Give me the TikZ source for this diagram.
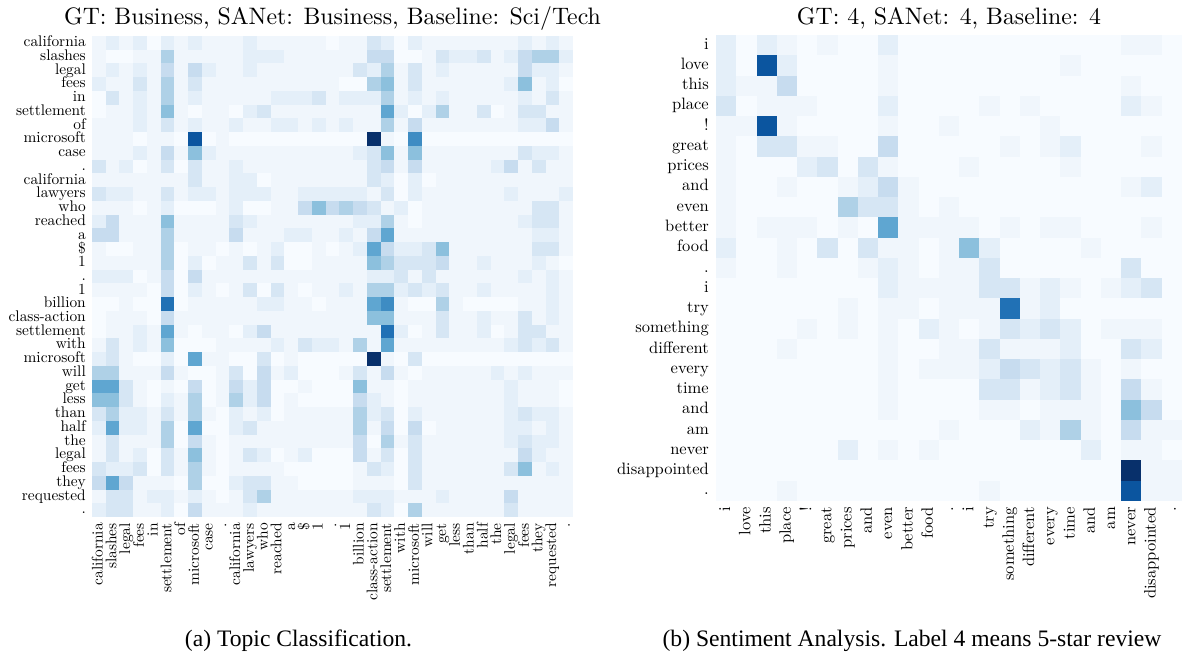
\documentclass[tikz,border=0pt]{standalone}
\usepackage{graphicx}
\usepackage{fontspec}
\newfontfamily\capfont{Liberation Serif}
\definecolor{c0}{RGB}{247,251,255}
\definecolor{c1}{RGB}{240,246,252}
\definecolor{c2}{RGB}{228,239,249}
\definecolor{c3}{RGB}{214,230,244}
\definecolor{c4}{RGB}{199,220,239}
\definecolor{c5}{RGB}{175,209,231}
\definecolor{c6}{RGB}{140,192,221}
\definecolor{c7}{RGB}{95,166,209}
\definecolor{c8}{RGB}{62,140,195}
\definecolor{c9}{RGB}{33,113,181}
\definecolor{cA}{RGB}{11,85,159}
\definecolor{cB}{RGB}{8,48,107}
\newcommand{\lmtext}[2]{\scalebox{#1}{\fontsize{10}{12}\selectfont\vphantom{lg}#2}}
\begin{document}
\begin{tikzpicture}[x=1pt,y=-1pt,
  lrow/.style={anchor=east,inner sep=0pt},
  lcol/.style={anchor=east,rotate=90,inner sep=0pt},
  ttl/.style={anchor=base,inner sep=0pt},
  capt/.style={anchor=base,inner sep=0pt,font=\capfont\fontsize{23.6}{26}\selectfont}]
\useasboundingbox (0,0) rectangle (1184,655);
% ---------------- left heatmap ----------------
\foreach \row [count=\r from 0] in {
{1,2,1,2,0,2,1,2,1,1,1,2,1,1,1,1,1,0,1,1,3,2,0,2,1,1,1,1,1,1,1,2,1,2,1},
{1,0,0,1,1,5,1,1,1,1,1,2,2,2,1,1,1,1,1,1,4,4,0,0,1,3,2,2,3,1,2,4,5,5,2},
{1,2,1,2,1,4,1,4,2,1,1,2,1,1,1,1,1,1,1,3,2,5,1,3,1,2,1,1,1,1,1,4,2,2,1},
{2,1,1,3,1,5,1,3,1,1,1,1,1,1,1,1,1,1,0,0,5,6,1,3,1,1,1,1,1,1,2,6,1,2,0},
{0,3,1,2,1,5,1,2,1,1,1,1,1,2,2,2,3,1,2,2,2,5,1,2,1,2,1,1,1,1,1,2,1,3,1},
{0,1,1,2,1,6,1,0,1,1,0,2,3,1,1,1,1,1,1,1,1,7,2,0,2,5,1,1,3,0,1,3,3,1,1},
{1,1,1,2,1,3,1,2,1,1,2,1,1,2,2,1,2,1,2,1,1,5,1,4,1,1,1,1,1,1,1,2,2,4,1},
{1,1,1,0,1,1,0,A,0,1,0,0,0,0,0,0,0,0,0,0,B,1,0,8,0,0,0,0,0,0,0,0,0,0,0},
{1,1,1,2,1,4,1,6,2,1,1,1,1,1,1,1,1,1,1,2,3,6,1,6,1,1,1,1,1,1,1,3,2,2,1},
{3,1,2,0,1,3,0,3,1,1,2,1,1,1,1,1,1,1,1,1,3,4,1,4,1,1,1,1,1,2,4,1,3,1,1},
{1,1,1,1,1,1,1,3,1,1,2,2,0,1,1,1,1,1,1,1,3,2,0,2,0,1,1,1,1,1,1,1,1,1,1},
{3,2,2,1,1,3,1,2,2,1,2,2,2,1,1,2,2,2,2,2,1,3,0,2,1,1,1,1,1,1,2,1,1,1,2},
{1,1,1,0,1,2,0,0,0,1,2,0,0,1,1,4,6,4,5,4,3,1,2,0,1,1,1,1,1,1,1,1,3,3,1},
{2,4,1,1,1,6,1,1,1,1,3,2,1,1,1,1,1,1,1,2,2,5,1,0,1,1,1,1,1,1,1,2,3,3,1},
{4,4,1,1,1,5,1,1,1,1,4,1,1,1,2,2,1,1,2,1,4,7,1,1,1,1,1,1,1,1,1,1,2,2,1},
{1,0,0,1,1,5,0,1,1,0,1,0,1,2,0,0,1,0,1,2,7,4,2,2,3,6,1,1,1,1,1,1,3,3,1},
{1,1,1,1,1,5,0,2,0,1,1,3,1,3,0,0,1,1,1,1,6,5,3,3,3,4,1,1,2,1,1,1,2,1,0},
{2,2,2,0,1,4,0,4,1,1,1,1,1,1,1,1,1,1,1,1,2,2,3,1,3,1,1,1,1,1,1,2,1,2,1},
{1,1,1,1,0,4,0,2,1,0,1,3,0,3,1,0,1,1,2,1,5,5,2,3,2,3,1,1,2,1,1,1,1,2,1},
{0,0,1,0,0,9,0,1,1,1,1,1,2,2,1,1,0,1,1,1,7,8,1,0,0,5,1,0,0,0,0,1,1,2,1},
{0,1,1,1,0,4,1,1,1,1,1,1,1,1,1,1,1,1,1,1,6,6,1,1,1,3,1,1,2,1,1,3,1,2,1},
{0,1,1,2,1,7,1,0,1,1,0,2,4,1,1,1,1,1,1,1,1,9,2,0,1,3,1,1,2,0,1,3,3,1,1},
{1,3,1,2,1,6,0,0,0,1,1,1,1,2,1,3,2,2,1,5,1,7,1,1,1,1,1,1,1,1,2,3,2,3,1},
{2,3,1,0,0,2,0,7,1,1,0,0,3,0,1,0,0,0,0,0,B,1,0,3,0,0,0,0,0,0,0,0,0,0,0},
{5,5,1,1,1,4,1,0,0,1,3,0,4,1,2,0,0,0,1,3,1,4,1,0,1,1,1,1,1,2,1,2,1,1,1},
{7,7,3,1,0,1,0,4,0,1,4,2,4,0,0,1,0,0,0,6,1,1,0,1,1,1,1,1,1,1,2,1,1,1,0},
{6,6,3,1,0,2,1,5,0,1,5,2,4,0,1,0,0,0,0,4,2,1,0,1,1,1,1,1,1,1,2,1,1,1,0},
{3,5,2,2,1,3,1,5,1,0,2,1,2,0,1,1,1,1,1,5,2,3,0,2,1,1,1,1,1,1,2,3,2,2,1},
{2,7,2,2,1,5,0,7,0,0,2,3,1,1,1,1,1,1,1,5,1,4,0,4,0,1,1,1,1,1,2,2,1,2,1},
{1,3,1,1,1,5,0,4,1,0,1,1,1,1,1,1,1,1,1,4,0,5,1,3,1,1,1,1,1,1,2,3,2,2,1},
{1,3,1,2,0,3,1,6,1,0,1,3,2,0,1,2,0,0,0,4,1,3,0,3,1,1,1,1,1,1,1,4,2,1,1},
{3,2,2,3,0,3,1,5,1,0,1,1,1,1,0,0,0,0,0,1,3,2,0,3,1,1,1,1,1,1,3,6,1,2,1},
{4,7,4,1,1,1,0,5,0,0,2,3,3,1,1,0,0,0,0,1,1,1,0,3,1,1,1,1,1,1,1,1,1,1,1},
{1,3,3,1,2,2,1,2,1,0,1,3,5,1,1,1,1,1,1,2,2,2,1,1,1,2,1,1,1,1,4,1,1,1,1},
{2,3,3,1,1,2,0,4,1,1,1,2,1,1,1,1,1,1,1,1,3,2,0,5,1,1,1,1,1,1,3,1,1,1,1}}
{\foreach \v [count=\c from 0] in \row
  {\fill[c\v] ({92+\c*13.743},{36+\r*13.743}) rectangle +(14.1,14.1);}}
\foreach \lab [count=\i from 0] in {california,slashes,legal,fees,in,settlement,of,microsoft,case,.,california,lawyers,who,reached,a,\$,1,.,1,billion,class-action,settlement,with,microsoft,will,get,less,than,half,the,legal,fees,they,requested,.}
{\node[lrow] (lr\i) at (86,{36+13.743*(\i+0.5)}) {\lmtext{1.54}{\lab}};
 \node[lcol] (lc\i) at ({92+13.743*(\i+0.5)},523) {\lmtext{1.54}{\lab}};}
\node[ttl] (ta) at (332.5,25) {\lmtext{2.38}{GT: Business, SANet: Business, Baseline: Sci/Tech}};
% ---------------- right heatmap ----------------
\foreach \row [count=\r from 0] in {
{2,0,2,1,0,1,0,0,2,0,0,0,0,0,0,0,0,0,0,0,1,1,0},
{2,0,A,2,0,0,0,0,1,0,0,0,0,0,0,0,0,1,0,0,0,0,0},
{2,1,1,4,0,0,0,0,1,0,0,0,0,0,0,0,0,0,0,0,1,0,0},
{3,0,1,1,1,0,0,0,2,0,0,0,0,1,0,1,0,0,0,0,2,1,0},
{1,1,A,1,0,0,0,0,1,0,0,1,0,0,0,0,1,0,0,0,0,0,0},
{1,0,3,3,1,1,0,0,4,0,0,0,0,0,1,0,1,2,0,0,0,1,0},
{1,0,0,0,2,3,0,3,1,0,0,0,1,0,0,0,0,1,0,0,0,0,0},
{1,0,0,1,0,0,1,2,4,1,0,0,0,0,0,0,0,0,0,0,1,2,0},
{1,0,0,0,0,0,5,3,3,1,0,1,0,0,0,0,0,0,0,0,0,0,0},
{1,0,1,1,1,0,1,0,7,1,1,1,1,0,1,0,1,1,0,0,0,1,0},
{2,0,0,1,0,3,0,3,1,1,0,1,6,2,0,0,0,0,1,0,0,0,0},
{1,0,0,1,0,0,0,1,2,1,0,1,1,3,0,0,0,0,0,0,3,0,0},
{0,0,0,0,0,0,0,0,2,1,1,1,1,3,3,1,2,1,0,1,2,3,0},
{0,0,0,0,0,0,1,0,1,1,0,1,1,1,9,1,2,0,0,0,0,0,0},
{0,0,0,0,1,0,1,0,1,0,2,1,0,1,3,2,3,2,0,1,1,1,0},
{0,0,0,1,0,0,0,0,1,0,0,1,1,3,1,1,1,2,0,0,3,2,0},
{0,0,0,0,0,0,0,0,1,0,1,1,1,2,4,3,2,3,1,0,1,0,0},
{0,0,0,0,0,0,0,0,1,0,0,0,0,3,3,1,2,3,1,0,4,1,0},
{0,0,0,0,0,0,0,0,1,0,0,0,0,1,1,0,1,1,1,0,6,4,0},
{0,0,0,0,0,0,0,0,0,0,0,1,0,0,0,2,1,5,1,0,4,1,1},
{0,0,0,0,0,0,2,0,1,0,1,0,0,0,0,0,0,0,2,0,1,1,0},
{0,0,0,0,0,0,0,0,0,0,0,0,0,0,0,0,0,0,0,0,B,1,1},
{0,0,0,1,0,0,0,0,0,0,0,0,0,1,0,0,0,0,0,0,A,1,1}}
{\foreach \v [count=\c from 0] in \row
  {\fill[c\v] ({716+\c*20.26},{35+\r*20.26}) rectangle +(20.6,20.6);}}
\foreach \lab [count=\i from 0] in {i,love,this,place,!,great,prices,and,even,better,food,.,i,try,something,different,every,time,and,am,never,disappointed,.}
{\node[lrow] (rr\i) at (709,{35+20.26*(\i+0.5)}) {\lmtext{1.65}{\lab}};
 \node[lcol] (rc\i) at ({716+20.26*(\i+0.5)},507) {\lmtext{1.65}{\lab}};}
\node[ttl] (tb) at (949,25) {\lmtext{2.38}{GT: 4, SANet: 4, Baseline: 4}};
% ---------------- captions ----------------
\node[capt] (capa) at (298.5,646) {(a) Topic Classification.};
\node[capt] (capb) at (912,646) {(b) Sentiment Analysis. Label 4 means 5-star review};
\end{tikzpicture}
\end{document}
